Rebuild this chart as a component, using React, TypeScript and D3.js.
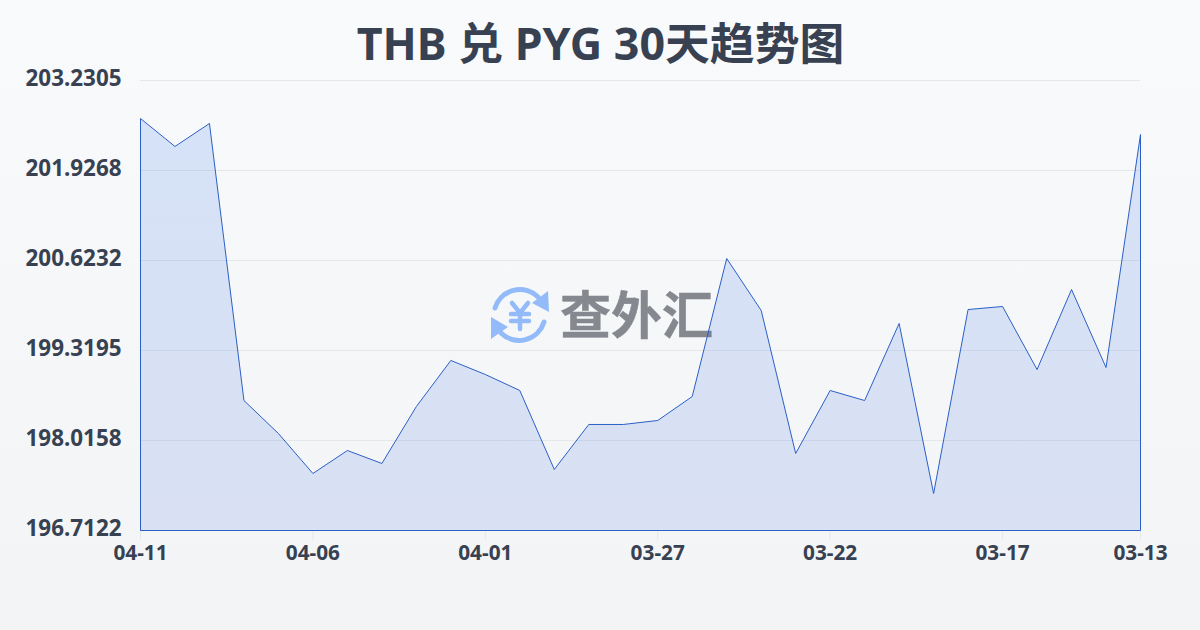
import React from "react";
import * as d3 from "d3";

const dates = ["04-11","04-10","04-09","04-08","04-07","04-06","04-05","04-04","04-03","04-02","04-01","03-31","03-30","03-29","03-28","03-27","03-26","03-25","03-24","03-23","03-22","03-21","03-20","03-19","03-18","03-17","03-16","03-15","03-14","03-13"];
const rates = [202.680,202.275,202.608,198.595,198.117,197.538,197.871,197.683,198.508,199.175,198.972,198.740,197.596,198.248,198.248,198.306,198.653,200.652,199.899,197.828,198.740,198.595,199.711,197.248,199.913,199.957,199.044,200.203,199.073,202.448];
const yTicks = [203.2305,201.9268,200.6232,199.3195,198.0158,196.7122];
const xLabels = ["04-11","04-06","04-01","03-27","03-22","03-17","03-13"];
const title = "THB 兑 PYG 30天趋势图";
const logoText = "查外汇";

const FONT = "'Noto Sans','Noto Sans CJK SC',sans-serif";
const INK = "#374151";

export default function App() {
  const x = d3.scalePoint<string>().domain(dates).range([140.5, 1140.5]);
  const y = d3.scaleLinear().domain([196.7122, 203.2305]).range([530.5, 80.5]);
  const line = d3.line<number>().x((_, i) => x(dates[i])!).y((d) => y(d));
  const area = d3.area<number>().x((_, i) => x(dates[i])!).y0(530.5).y1((d) => y(d));
  const outline = `M140.5,530.5L${line(rates)!.slice(1)}L1140.5,530.5Z`;
  return (
    <svg width={1200} height={630} viewBox="0 0 1200 630" style={{ position: "absolute", left: 0, top: 0, display: "block" }}>
      <defs>
        <linearGradient id="bg" x1="0" y1="0" x2="0" y2="1">
          <stop offset="0" stopColor="#f9fafc" />
          <stop offset="1" stopColor="#f3f4f6" />
        </linearGradient>
        <linearGradient id="fill" x1="0" y1="0" x2="0" y2="1">
          <stop offset="0" stopColor="#2f74e6" stopOpacity={0.17} />
          <stop offset="1" stopColor="#2458d8" stopOpacity={0.13} />
        </linearGradient>
      </defs>
      <rect width={1200} height={630} fill="url(#bg)" />
      <text x={600.5} y={60} textAnchor="middle" fontFamily={FONT} fontWeight={700} fontSize={44.8} fill={INK}>{title}</text>

      {yTicks.map((t) => (
        <g key={t}>
          <line x1={140} x2={1140} y1={y(t)} y2={y(t)} stroke="#e5e7eb" strokeWidth={1} />
          <text x={121.5} y={y(t) - 2} dy="0.35em" textAnchor="end" fontFamily={FONT} fontWeight={700} fontSize={22.4} fill={INK}>{d3.format(".4f")(t)}</text>
        </g>
      ))}
      {xLabels.map((l) => (
        <g key={l}>
          <line x1={x(l)} x2={x(l)} y1={530} y2={540} stroke="#e5e7eb" strokeWidth={1} />
          <text x={x(l)} y={560} textAnchor="middle" fontFamily={FONT} fontWeight={700} fontSize={20.8} fill={INK}>{l}</text>
        </g>
      ))}

      <g>
        <g fill="none" stroke="#93bbfa" strokeWidth={5} strokeLinecap="round">
          <path d="M495,308A26,26 0 0 1 538,297" />
          <path d="M544,322A26,26 0 0 1 501,333" />
          <path d="M512,303L520,313L528,303M520,313V329M511,314H529M511,321H529" strokeWidth={4.5} />
        </g>
        <path d="M548,291L549,312L532,303Z" fill="#93bbfa" />
        <path d="M491,339L491,317L508,327Z" fill="#93bbfa" />
        <text x={560} y={334} fontFamily={FONT} fontWeight={700} fontSize={51} stroke="#85888f" strokeWidth={0.5} fill="#85888f">{logoText}</text>
      </g>

      <path d={area(rates)!} fill="url(#fill)" />
      <path d={outline} fill="none" stroke="#2b5fc7" strokeWidth={1} strokeLinejoin="round" />
    </svg>
  );
}
